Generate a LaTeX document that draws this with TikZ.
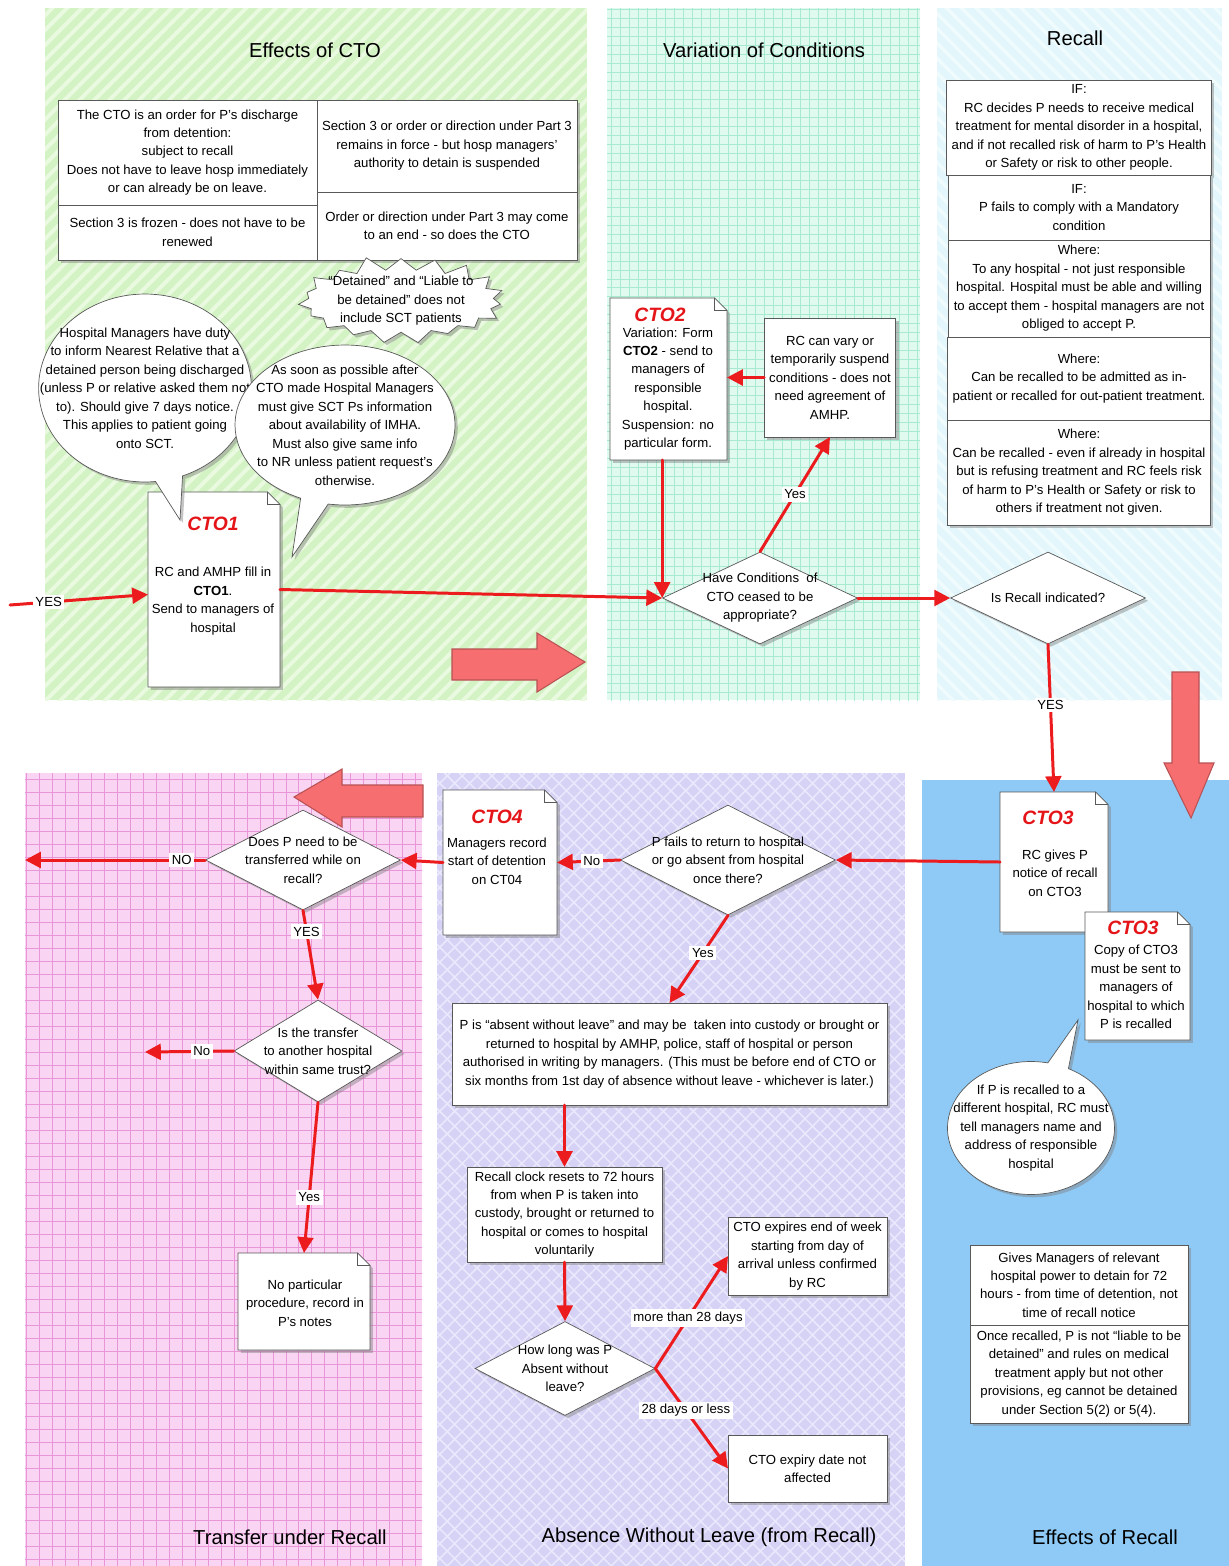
\documentclass[tikz,border=0pt]{standalone}
\usepackage{fontspec}
\setmainfont{Liberation Sans}
\usetikzlibrary{arrows.meta,positioning,shapes.geometric,shapes.symbols,shapes.callouts,shadows,patterns.meta}
\definecolor{greenbg}{RGB}{212,243,196}
\definecolor{greenline}{RGB}{234,250,224}
\definecolor{mintbg}{RGB}{224,250,240}
\definecolor{mintline}{RGB}{168,234,208}
\definecolor{recallbg}{RGB}{226,246,251}
\definecolor{recallline}{RGB}{240,251,253}
\definecolor{pinkbg}{RGB}{250,212,243}
\definecolor{pinkline}{RGB}{232,150,216}
\definecolor{lavbg}{RGB}{214,210,246}
\definecolor{lavline}{RGB}{234,232,252}
\definecolor{bluebg}{RGB}{142,202,245}
\definecolor{arrowred}{RGB}{236,28,30}
\definecolor{formred}{RGB}{228,20,24}
\definecolor{blockred}{RGB}{246,110,112}
\newcommand\txt{\fontsize{7.5}{10.5}\selectfont}
\newcommand\fold{7pt}
\newcommand\docframe[1]{%
\filldraw[docedge,shadowed] (#1.south west) -- (#1.south east) -- ([yshift=-\fold]#1.north east) -- ([xshift=-\fold]#1.north east) -- (#1.north west) -- cycle;
\draw[docedge,fill=none] ([xshift=-\fold]#1.north east) -- ([xshift=-\fold,yshift=-\fold]#1.north east) -- ([yshift=-\fold]#1.north east);}

\begin{document}
\begin{tikzpicture}[x=0.02cm,y=-0.02cm,>={Triangle[length=9pt,width=9pt]},line cap=round,
  shadowed/.style={drop shadow={shadow xshift=1.6pt,shadow yshift=-1.6pt,opacity=.45}},
  cell/.style={draw=black!65,fill=white,outer sep=0pt,inner xsep=1mm,inner ysep=1pt,align=center,font=\txt},
  box/.style={cell,shadowed},
  dec/.style={diamond,aspect=2,draw=black!65,fill=white,inner sep=-6pt,align=center,font=\txt,shadowed},
  bubble/.style={ellipse callout,draw=black!65,fill=white,align=center,font=\txt,shadowed},
  flow/.style={draw=arrowred,line width=1.7pt,->},
  lbl/.style={fill=white,inner sep=1.5pt,font=\txt,text=black},
  paneltitle/.style={font=\fontsize{11.5}{13}\selectfont},
  formname/.style={text=formred,font=\fontsize{11}{12}\selectfont\bfseries\itshape},
  sheet/.style={inner sep=0pt,outer sep=0pt},
  sheettext/.style={align=center,font=\txt,inner sep=0pt},
  docedge/.style={draw=black!65,fill=white},
  blockarrow/.style={fill=blockred,draw=blockred!75!black,line width=.6pt}]
\useasboundingbox (0,0) rectangle (1229,1566);

\fill[greenbg] (45,8) rectangle (587,700);
\fill[pattern={Lines[angle=45,distance=6pt,line width=2.2pt]},pattern color=greenline] (45,8) rectangle (587,700);
\fill[mintbg] (607,8) rectangle (920,700);
\begin{scope}
\clip (607,8) rectangle (920,700);
\draw[mintline,step=0.18cm,line width=.5pt] (600,0) grid (930,710);
\end{scope}
\fill[recallbg] (937,8) rectangle (1222,700);
\fill[pattern={Lines[angle=-45,distance=6pt,line width=2pt]},pattern color=recallline] (937,8) rectangle (1222,700);
\fill[pinkbg] (25,773) rectangle (422,1566);
\begin{scope}
\clip (25,773) rectangle (422,1566);
\draw[pinkline,step=0.26cm,line width=.5pt] (20,760) grid (430,1570);
\end{scope}
\fill[lavbg] (437,773) rectangle (905,1566);
\fill[pattern={Lines[angle=45,distance=6pt,line width=.9pt]},pattern color=lavline] (437,773) rectangle (905,1566);
\fill[pattern={Lines[angle=-45,distance=6pt,line width=.9pt]},pattern color=lavline] (437,773) rectangle (905,1566);
\fill[bluebg] (922,780) rectangle (1229,1566);

\filldraw[blockarrow] (452,649) -- (537,649) -- (537,633) -- (585,662) -- (537,692) -- (537,680) -- (452,680) -- cycle;
\filldraw[blockarrow] (1172,672) -- (1199,672) -- (1199,763) -- (1214,763) -- (1191,818) -- (1164,763) -- (1172,763) -- cycle;
\filldraw[blockarrow] (423,785) -- (342,785) -- (342,769) -- (294,797) -- (342,827) -- (342,817) -- (423,817) -- cycle;

\node[paneltitle] (tEff) at (315,50) {Effects of CTO};
\node[paneltitle] (tVar) at (764,50) {Variation of Conditions};
\node[paneltitle] (tRec) at (1075,38) {Recall};
\node[paneltitle] (tTrans) at (290,1537) {Transfer under Recall};
\node[paneltitle] (tAwol) at (709,1537) {Absence Without Leave (from Recall)};
\node[paneltitle] (tEffRec) at (1105,1537) {Effects of Recall};

\node[box,minimum width=5.18cm,minimum height=2.1cm,anchor=north west] (effA) at (58,100) {The CTO is an order for P’s discharge\\from detention:\\subject to recall\\Does not have to leave hosp immediately\\or can already be on leave.};
\node[box,minimum width=5.18cm,minimum height=1.1cm,below=0pt of effA] (effB) {Section 3 is frozen - does not have to be\\renewed};
\node[box,minimum width=5.2cm,minimum height=1.84cm,anchor=north west] (effC) at (effA.north east) {Section 3 or order or direction under Part 3\\remains in force - but hosp managers’\\authority to detain is suspended};
\node[box,minimum width=5.2cm,minimum height=1.36cm,below=0pt of effC] (effD) {Order or direction under Part 3 may come\\to an end - so does the CTO};
\node[starburst,draw=black!65,fill=white,shadowed,starburst points=19,starburst point height=0.3cm,random starburst=11,minimum width=3.85cm,minimum height=1.85cm,inner sep=-4pt,align=center,font=\txt] (burst) at (401,301) {“Detained” and “Liable to\\be detained” does not\\include SCT patients};

\node[sheet,minimum width=2.64cm,minimum height=3.9cm] (cto1) at (214,589.5) {};
\docframe{cto1}
\node[formname] (cto1name) at (213,524) {CTO1};
\node[sheettext] (cto1text) at (213,601) {RC and AMHP fill in\\\textbf{CTO1}.\\Send to managers of\\hospital};
\node[bubble,minimum width=4.2cm,minimum height=3.76cm,inner sep=-17pt,callout absolute pointer={(180,520)}] (nrduty) at (145,388) {Hospital Managers have duty\\to inform Nearest Relative that a\\detained person being discharged\\(unless P or relative asked them not\\to). Should give 7 days notice.\\This applies to patient going\\onto SCT.};
\node[bubble,minimum width=4.4cm,minimum height=3.2cm,inner sep=-8pt,callout absolute pointer={(292,557)}] (imha) at (345,425) {As soon as possible after\\CTO made Hospital Managers\\must give SCT Ps information\\about availability of IMHA.\\Must also give same info\\to NR unless patient request's\\otherwise.};

\node[sheet,minimum width=2.34cm,minimum height=3.24cm] (cto2) at (668.5,379) {};
\docframe{cto2}
\node[formname] (cto2name) at (660,315) {CTO2};
\node[sheettext] (cto2text) at (668,389) {Variation: Form\\\textbf{CTO2} - send to\\managers of\\responsible\\hospital.\\Suspension: no\\particular form.};
\node[box,minimum width=2.6cm,minimum height=2.38cm] (rcvary) at (830,377.5) {RC can vary or\\temporarily suspend\\conditions - does not\\need agreement of\\AMHP.};
\node[dec,minimum width=3.9cm,minimum height=1.84cm] (cond) at (760,598) {Have Conditions\ \ of\\CTO ceased to be\\appropriate?};

\node[box,minimum width=5.24cm,minimum height=1.9cm,anchor=north] (recA) at (1079,80) {IF:\\RC decides P needs to receive medical\\treatment for mental disorder in a hospital,\\and if not recalled risk of harm to P’s Health\\or Safety or risk to other people.};
\node[box,minimum width=5.24cm,minimum height=1.3cm,below=0pt of recA] (recB) {IF:\\P fails to comply with a Mandatory\\condition};
\node[box,minimum width=5.24cm,minimum height=1.94cm,below=0pt of recB] (recC) {Where:\\To any hospital - not just responsible\\hospital. Hospital must be able and willing\\to accept them - hospital managers are not\\obliged to accept P.};
\node[box,minimum width=5.24cm,minimum height=1.66cm,below=0pt of recC] (recD) {Where:\\Can be recalled to be admitted as in-\\patient or recalled for out-patient treatment.};
\node[box,minimum width=5.24cm,minimum height=2.1cm,below=0pt of recD] (recE) {Where:\\Can be recalled - even if already in hospital\\but is refusing treatment and RC feels risk\\of harm to P’s Health or Safety or risk to\\others if treatment not given.};
\node[dec,minimum width=3.9cm,minimum height=1.84cm] (recall) at (1048,598) {Is Recall indicated?};

\node[sheet,minimum width=2.16cm,minimum height=2.8cm] (cto3) at (1054,862) {};
\docframe{cto3}
\node[formname] (cto3name) at (1048,818) {CTO3};
\node[sheettext] (cto3text) at (1055,873) {RC gives P\\notice of recall\\on CTO3};
\node[sheet,minimum width=2.1cm,minimum height=2.56cm] (cto3copy) at (1137.5,976) {};
\docframe{cto3copy}
\node[formname] (cto3copyname) at (1133,928) {CTO3};
\node[sheettext] (cto3copytext) at (1136,987) {Copy of CTO3\\must be sent to\\managers of\\hospital to which\\P is recalled};
\node[bubble,minimum width=3.34cm,minimum height=2.66cm,inner sep=-11pt,callout absolute pointer={(1078,1020)}] (newhosp) at (1031,1128) {If P is recalled to a\\different hospital, RC must\\tell managers name and\\address of responsible\\hospital};
\node[box,minimum width=4.36cm,minimum height=1.6cm,anchor=north] (effRecA) at (1079,1245) {Gives Managers of relevant\\hospital power to detain for 72\\hours - from time of detention, not\\time of recall notice};
\node[box,minimum width=4.36cm,minimum height=1.96cm,below=0pt of effRecA] (effRecB) {Once recalled, P is not “liable to be\\detained” and rules on medical\\treatment apply but not other\\provisions, eg cannot be detained\\under Section 5(2) or 5(4).};

\node[dec,minimum width=4.3cm,minimum height=2.2cm] (fails) at (728,860) {P fails to return to hospital\\or go absent from hospital\\once there?};
\node[sheet,minimum width=2.28cm,minimum height=2.9cm] (cto4) at (500,862.5) {};
\docframe{cto4}
\node[formname] (cto4name) at (497,817) {CTO4};
\node[sheettext] (cto4text) at (497,861) {Managers record\\start of detention\\on CT04};
\node[box,minimum width=8.7cm,minimum height=2.04cm] (awol) at (669.5,1054) {P is “absent without leave” and may be\ \ taken into custody or brought or\\returned to hospital by AMHP, police, staff of hospital or person\\authorised in writing by managers. (This must be before end of CTO or\\six months from 1st day of absence without leave - whichever is later.)};
\node[box,minimum width=3.9cm,minimum height=1.9cm] (clock) at (564.5,1214.5) {Recall clock resets to 72 hours\\from when P is taken into\\custody, brought or returned to\\hospital or comes to hospital\\voluntarily};
\node[dec,minimum width=3.6cm,minimum height=1.88cm] (howlong) at (565,1368.5) {How long was P\\Absent without\\leave?};
\node[box,minimum width=3.18cm,minimum height=1.56cm] (expires) at (807.5,1256) {CTO expires end of week\\starting from day of\\arrival unless confirmed\\by RC};
\node[box,minimum width=3.18cm,minimum height=1.34cm] (notaff) at (807.5,1468.5) {CTO expiry date not\\affected};

\node[dec,minimum width=3.9cm,minimum height=2cm] (transfer) at (303,860) {Does P need to be\\transferred while on\\recall?};
\node[dec,minimum width=3.36cm,minimum height=2.04cm] (trust) at (318,1051) {Is the transfer\\to another hospital\\within same trust?};
\node[sheet,minimum width=2.64cm,minimum height=1.94cm] (notes) at (304,1301.5) {};
\docframe{notes}
\node[sheettext] (notestext) at (305,1303) {No particular\\procedure, record in\\P’s notes};

\coordinate (yesin) at (10,605);
\coordinate (noout) at (25,860);
\coordinate (nofar) at (145,1052);
\draw[flow] (yesin) -- (cto1) node[lbl,pos=.28] {YES};
\draw[flow] (cto1.east) -- (cond.west);
\draw[flow] (rcvary.west) -- (cto2.east |- rcvary.west);
\draw[flow] (cond.north) -- (rcvary.south) node[lbl,pos=.5] {Yes};
\draw[flow] (cto2.south -| cond.west) -- (cond.west);
\draw[flow] (cond.east) -- (recall.west);
\draw[flow] (recall.south) -- (cto3.north) node[lbl,pos=.41] {YES};
\draw[flow] (cto3.west) -- (fails.east);
\draw[flow] (fails.west) -- (cto4.east) node[lbl,pos=.45] {No};
\draw[flow] (cto4.west) -- (transfer.east);
\draw[flow] (transfer.west) -- (noout) node[lbl,pos=.13] {NO};
\draw[flow] (transfer.south) -- (trust.north) node[lbl,pos=.24] {YES};
\draw[flow] (trust.west) -- (nofar) node[lbl,pos=.36] {No};
\draw[flow] (trust.south) -- (notes.north) node[lbl,pos=.63] {Yes};
\draw[flow] (fails.south) -- (awol.north) node[lbl,pos=.43] {Yes};
\draw[flow] (clock.north |- awol.south) -- (clock.north);
\draw[flow] (clock.south) -- (howlong.north);
\draw[flow] (howlong.east) -- (expires.west) node[lbl,pos=.45] {more than 28 days};
\draw[flow] (howlong.east) -- (notaff.west) node[lbl,pos=.42] {28 days or less};
\end{tikzpicture}
\end{document}
